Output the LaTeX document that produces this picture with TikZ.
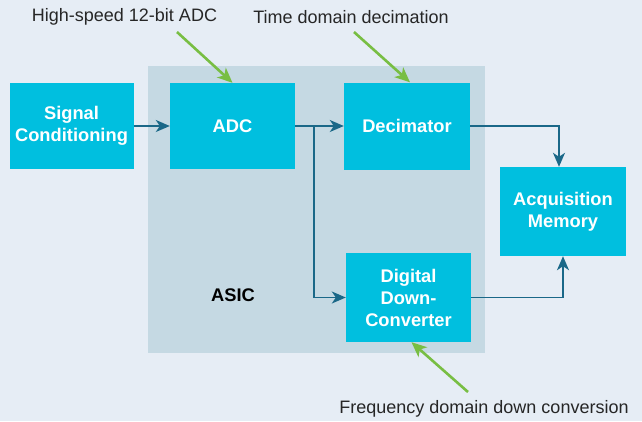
\documentclass[tikz,border=0pt]{standalone}
\usepackage{fontspec}
\setmainfont{Liberation Sans}
\usetikzlibrary{arrows.meta}
\definecolor{pagebg}{RGB}{230,237,245}
\definecolor{asicbg}{RGB}{197,217,227}
\definecolor{blockcol}{RGB}{0,191,223}
\definecolor{linkcol}{RGB}{26,104,136}
\definecolor{notecol}{RGB}{120,190,67}
\tikzset{
  block/.style={fill=blockcol, text=white, font=\bfseries\fontsize{18.3}{22}\selectfont,
    align=center, inner sep=0pt},
  link/.style={draw=linkcol, line width=1.6pt, -{Stealth[length=14pt,width=12pt,inset=4pt]}},
  note/.style={font=\fontsize{18}{22}\selectfont, text=black!85, inner sep=0pt},
  pointer/.style={draw=notecol, line width=2.6pt, -{Stealth[length=15pt,width=13pt,inset=4pt]}}
}
\begin{document}
\begin{tikzpicture}[x=1pt,y=-1pt]
  \fill[pagebg] (0,0) rectangle (642,421);
  \fill[asicbg] (148,66) rectangle (485,353);
  \node[font=\bfseries\fontsize{18.3}{22}\selectfont] (asic) at (233,295) {ASIC};

  \node[block, minimum width=124pt, minimum height=86pt] (sigcond) at (71.5,126) {Signal\\Conditioning};
  \node[block, minimum width=125pt, minimum height=86pt] (adc) at (232.5,126) {ADC};
  \node[block, minimum width=126pt, minimum height=87pt] (decim) at (407,126) {Decimator};
  \node[block, minimum width=125pt, minimum height=89pt] (ddc) at (408.5,297.5) {Digital\\Down-\\Converter};
  \node[block, minimum width=126pt, minimum height=89pt] (acqmem) at (563,211.5) {Acquisition\\Memory};

  \node[note] (adcnote) at (124.5,17) {High-speed 12-bit ADC};
  \node[note] (decimnote) at (351,17) {Time domain decimation};
  \node[note] (ddcnote) at (484,409) {Frequency domain down conversion};
  \coordinate (adctail) at (177,32);
  \coordinate (decimtail) at (354,32);
  \coordinate (ddctail) at (468,392);
  \coordinate (split) at (314,126);

  \begin{scope}
    \draw[link] (sigcond.east) -- (adc.west);
    \draw[link] (adc.east) -- (decim.west);
    \draw[link] (split) |- (ddc.west);
    \draw[link] (decim.east) -| ([xshift=-4pt]acqmem.north);
    \draw[link] (ddc.east) -| (acqmem.south);
  \end{scope}

  \begin{scope}
    \draw[pointer] (adctail) -- (adc.north);
    \draw[pointer] (decimtail) -- ([xshift=3pt]decim.north);
    \draw[pointer] (ddctail) -- ([xshift=3pt]ddc.south);
  \end{scope}
\end{tikzpicture}
\end{document}
